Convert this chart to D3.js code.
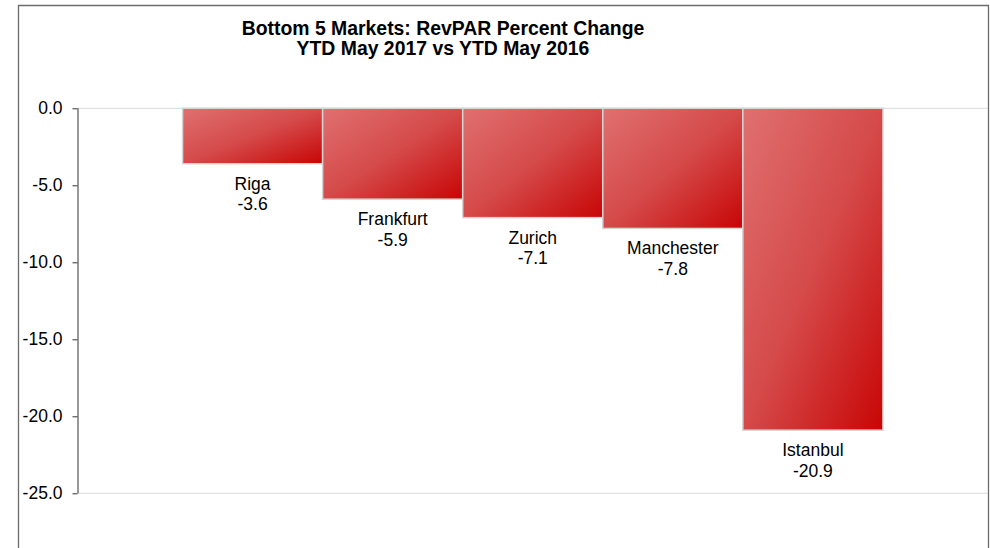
<!DOCTYPE html>
<html>
<head>
<meta charset="utf-8">
<script src="https://cdn.jsdelivr.net/npm/d3@7"></script>
<style>
  body { margin: 0; background: #fff; }
  svg text { font-family: "Liberation Sans", Arial, sans-serif; fill: #000; }
</style>
</head>
<body>
<div class="chart"></div>
<script>
var markets = ['Riga', 'Frankfurt', 'Zurich', 'Manchester', 'Istanbul'];
var revparChange = [-3.6, -5.9, -7.1, -7.8, -20.9];
var yTicks = [0, -5, -10, -15, -20, -25];
var titleLines = ['Bottom 5 Markets: RevPAR Percent Change', 'YTD May 2017 vs YTD May 2016'];

var data = markets.map((m, i) => ({name: m, value: revparChange[i]}));

var W = 990, H = 548;
var plot = {left: 77.5, right: 988, top: 108.3, bottom: 493.3};

var svg = d3.select('div.chart')
    .append('svg')
        .attr('width', W)
        .attr('height', H);

// gradient fill for bars
var grad = svg.append('defs')
    .append('linearGradient')
        .attr('id', 'barGrad')
        .attr('x1', 0).attr('y1', 0)
        .attr('x2', 1).attr('y2', 1);
grad.append('stop').attr('offset', '0%').attr('stop-color', '#e07070');
grad.append('stop').attr('offset', '50%').attr('stop-color', '#d54a4a');
grad.append('stop').attr('offset', '100%').attr('stop-color', '#c80505');

// outer chart border (bottom runs off the page)
svg.append('path')
    .attr('d', 'M18.5,' + (H + 5) + 'V5.5H988.5V' + (H + 5))
    .attr('fill', 'none')
    .attr('stroke', '#6b6b6b')
    .attr('stroke-width', 1.3);

// title
svg.append('text')
    .attr('x', 443)
    .attr('y', 34.5)
    .attr('text-anchor', 'middle')
    .style('font-size', '19.4px')
    .style('font-weight', 'bold')
    .selectAll('tspan')
    .data(titleLines)
    .enter()
    .append('tspan')
        .attr('x', 443)
        .attr('dy', (d, i) => i ? 20 : 0)
        .text((d) => d);

var x = d3.scaleBand()
    .domain(markets)
    .range([plot.left, plot.right])
    .paddingInner(0)
    .paddingOuter(0.75);

var y = d3.scaleLinear()
    .domain([-25, 0])
    .range([plot.bottom, plot.top]);

// plot area top/bottom edges
svg.selectAll('.edge')
    .data([0, -25])
    .enter()
    .append('line')
        .attr('class', 'edge')
        .attr('x1', plot.left)
        .attr('x2', plot.right)
        .attr('y1', (d) => y(d))
        .attr('y2', (d) => y(d))
        .attr('stroke', '#d9d9d9')
        .attr('stroke-width', 1);

// y axis
var yAxis = svg.append('g')
    .attr('class', 'y axis')
    .attr('transform', 'translate(' + plot.left + ',0)')
    .call(d3.axisLeft(y)
        .tickValues(yTicks)
        .tickSize(5)
        .tickPadding(10)
        .tickFormat((d) => d.toFixed(1)));
yAxis.select('.domain')
    .attr('stroke', '#333')
    .attr('d', 'M0.5,' + plot.top + 'V' + plot.bottom);
yAxis.selectAll('.tick line').attr('stroke', '#333');
yAxis.selectAll('text')
    .style('font-size', '17.5px')
    .style('font-family', '"Liberation Sans", Arial, sans-serif')
    .attr('fill', '#000');

// bars
svg.selectAll('.bar')
    .data(data)
    .enter()
    .append('rect')
        .attr('class', 'bar')
        .attr('x', (d) => x(d.name))
        .attr('width', x.bandwidth())
        .attr('y', y(0))
        .attr('height', (d) => y(d.value) - y(0))
        .attr('fill', 'url(#barGrad)')
        .attr('stroke', '#d4d4d4')
        .attr('stroke-width', 1.5);

// labels under bars
var labels = svg.selectAll('.lbl')
    .data(data)
    .enter()
    .append('text')
        .attr('class', 'lbl')
        .attr('text-anchor', 'middle')
        .style('font-size', '17.5px');
labels.append('tspan')
    .attr('x', (d) => x(d.name) + x.bandwidth() / 2)
    .attr('y', (d) => y(d.value) + 26)
    .text((d) => d.name);
labels.append('tspan')
    .attr('x', (d) => x(d.name) + x.bandwidth() / 2)
    .attr('y', (d) => y(d.value) + 46.5)
    .text((d) => d.value.toFixed(1));
</script>
</body>
</html>
